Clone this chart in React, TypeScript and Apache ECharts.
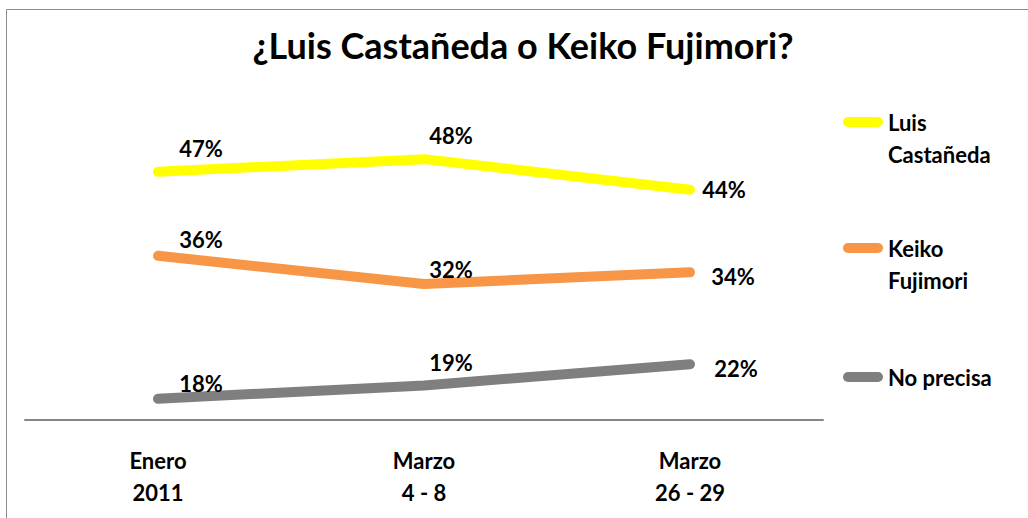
import React, { useEffect, useRef } from "react";
import * as echarts from "echarts";

const categories = ["Enero\n2011", "Marzo\n4 - 8", "Marzo\n26 - 29"];
const seriesNames = ["Luis Castañeda", "Keiko Fujimori", "No precisa"];
const castaneda = [46.6, 48.2, 44.3];
const fujimori = [35.9, 32.3, 33.8];
const noPrecisa = [17.7, 19.4, 22.1];

const FONT = "Lato, 'Open Sans', sans-serif";

export default function App() {
  const ref = useRef<HTMLDivElement>(null);
  useEffect(() => {
    document.body.style.margin = "0";
    const chart = echarts.init(ref.current!, null, { renderer: "svg" });
    const colors = ["#FFFF00", "#F79646", "#7F7F7F"];
    const values = [castaneda, fujimori, noPrecisa];
    const offsets = [
      [[43, -23], [27, -24], [34, 0]],
      [[43, -16], [27, -15], [43, 4]],
      [[43, -15], [27, -23], [46, 4]],
    ];
    // an empty first line keeps the icon level with the first text line
    const legendNames: Record<string, string> = {
      "Luis Castañeda": "\u00a0\nLuis\nCastañeda",
      "Keiko Fujimori": "\u00a0\nKeiko\nFujimori",
      "No precisa": "No precisa",
    };
    const legendTops = [69, 195, 356];
    const icon = "path://M5,0H35A5,5,0,0,1,35,10H5A5,5,0,0,1,5,0Z";
    chart.setOption({
      animation: false,
      title: {
        text: "¿Luis Castañeda o Keiko Fujimori?",
        left: 518,
        textAlign: "center",
        top: 22,
        textStyle: { fontFamily: FONT, fontWeight: "bold", fontSize: 36, color: "#000" },
      },
      graphic: [
        { type: "line", shape: { x1: 6.5, y1: 9.5, x2: 1028, y2: 9.5 }, style: { stroke: "#8c8c8c", lineWidth: 1 } },
        { type: "line", shape: { x1: 6.5, y1: 9.5, x2: 6.5, y2: 518 }, style: { stroke: "#8c8c8c", lineWidth: 1 } },
      ],
      legend: seriesNames.map((n, i) => ({
        data: [n],
        orient: "vertical",
        left: 838,
        top: legendTops[i],
        icon,
        itemWidth: 40,
        itemHeight: 10,
        formatter: (name: string) => legendNames[name],
        textStyle: {
          fontFamily: FONT,
          fontWeight: "bold",
          fontSize: 22,
          color: "#000",
          lineHeight: 32,
        },
      })),
      grid: { left: 25, right: 205, top: 145, bottom: 98 },
      xAxis: {
        type: "category",
        data: categories,
        boundaryGap: true,
        axisLine: { lineStyle: { color: "#868686", width: 2 } },
        axisTick: { show: false },
        axisLabel: {
          margin: 24,
          fontFamily: FONT,
          fontWeight: "bold",
          fontSize: 22,
          color: "#000",
          lineHeight: 32,
        },
      },
      yAxis: {
        type: "value",
        min: 15,
        max: 50,
        show: false,
        splitLine: { show: false },
      },
      series: seriesNames.map((n, i) => ({
        name: n,
        type: "line",
        color: colors[i],
        symbol: "circle",
        symbolSize: 1,
        showSymbol: true,
        lineStyle: { width: 10, color: colors[i], cap: "round", join: "round" },
        itemStyle: { color: colors[i] },
        label: {
          show: true,
          position: "inside",
          fontFamily: FONT,
          fontWeight: "bold",
          fontSize: 22,
          color: "#000",
          formatter: (p: any) => Math.round(p.value) + "%",
        },
        data: values[i].map((v, j) => ({ value: v, label: { offset: offsets[i][j] } })),
      })),
    });
    return () => chart.dispose();
  }, []);
  return <div ref={ref} style={{ width: 1028, height: 518 }} />;
}
